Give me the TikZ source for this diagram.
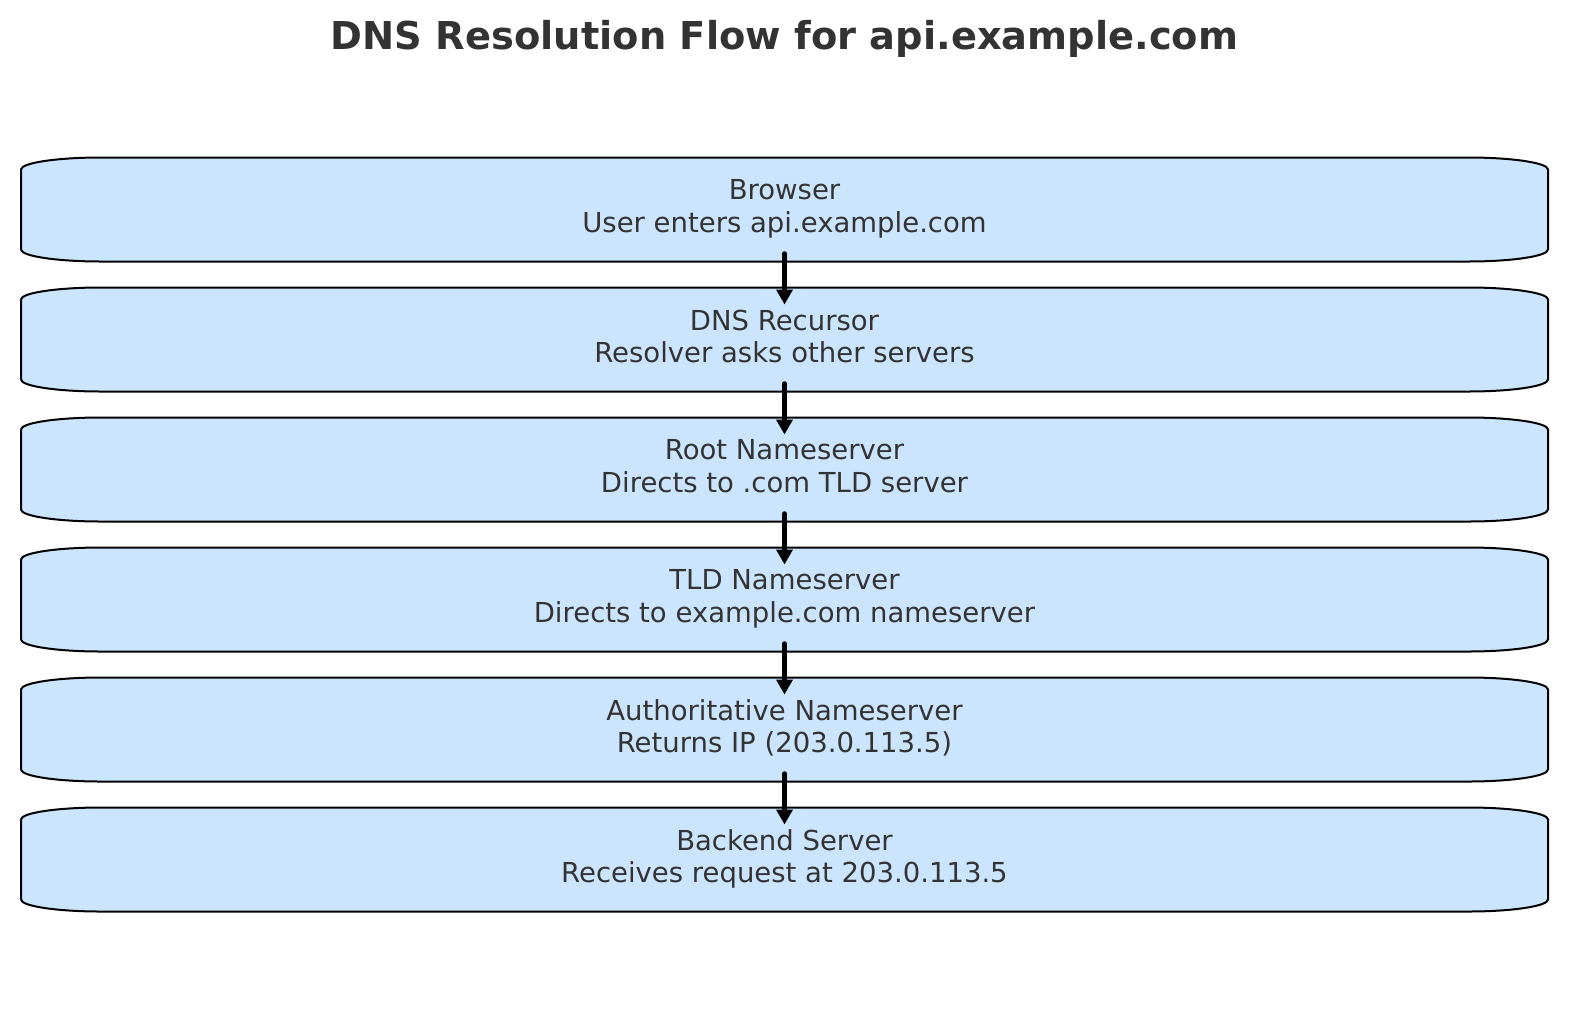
\documentclass[tikz,border=0pt]{standalone}
\usepackage{fontspec}
\setmainfont{DejaVu Sans}
\usetikzlibrary{arrows.meta,backgrounds}

\definecolor{boxfill}{HTML}{CCE5FF}
\definecolor{inkgray}{HTML}{333333}

\begin{document}
\begin{tikzpicture}[x=1pt,y=1pt,
    stage/.style={minimum width=1527pt,minimum height=104pt,inner sep=0pt,outer sep=0pt,
      align=center,text=inkgray,font=\fontsize{27.5}{32.7}\selectfont,
      execute at begin node=\rule{0pt}{27pt},execute at end node=\rule[-6.7pt]{0pt}{6.7pt}},
    stageline/.style={draw=black,line width=2pt,fill=boxfill},
    flow/.style={line width=4.5pt,line cap=round,-{Triangle[length=15pt,width=16pt]}},
    heading/.style={anchor=base,text=inkgray,font=\fontsize{38.4}{46}\selectfont\bfseries}]
    \useasboundingbox (0,0) rectangle (1589,-1010);
    \node (title) [heading] at (784.5,-49.3) {DNS Resolution Flow for api.example.com};
    \node (browser) [stage] at (784.5,-209.5) {Browser\\User enters api.example.com};
    \node (recursor) [stage] at (784.5,-339.5) {DNS Recursor\\Resolver asks other servers};
    \node (root) [stage] at (784.5,-469.5) {Root Nameserver\\Directs to .com TLD server};
    \node (tld) [stage] at (784.5,-599.5) {TLD Nameserver\\Directs to example.com nameserver};
    \node (auth) [stage] at (784.5,-729.5) {Authoritative Nameserver\\Returns IP (203.0.113.5)};
    \node (backend) [stage] at (784.5,-859.5) {Backend Server\\Receives request at 203.0.113.5};
    % rounded outlines behind the text
    \begin{scope}[on background layer]
        \foreach \n in {browser,recursor,root,tld,auth,backend}
            \draw [stageline] ([yshift=-12pt]\n.north west) -- ([yshift=12pt]\n.south west)
                arc[start angle=180,end angle=270,x radius=80pt,y radius=12pt]
                -- ([xshift=-80pt]\n.south east)
                arc[start angle=270,end angle=360,x radius=80pt,y radius=12pt]
                -- ([yshift=-12pt]\n.north east)
                arc[start angle=0,end angle=90,x radius=80pt,y radius=12pt]
                -- ([xshift=80pt]\n.north west)
                arc[start angle=90,end angle=180,x radius=80pt,y radius=12pt] -- cycle;
    \end{scope}
    \draw [flow] ([yshift=8pt]browser.south) -- ([yshift=-17pt]recursor.north);
    \draw [flow] ([yshift=8pt]recursor.south) -- ([yshift=-17pt]root.north);
    \draw [flow] ([yshift=8pt]root.south) -- ([yshift=-17pt]tld.north);
    \draw [flow] ([yshift=8pt]tld.south) -- ([yshift=-17pt]auth.north);
    \draw [flow] ([yshift=8pt]auth.south) -- ([yshift=-17pt]backend.north);
\end{tikzpicture}
\end{document}
